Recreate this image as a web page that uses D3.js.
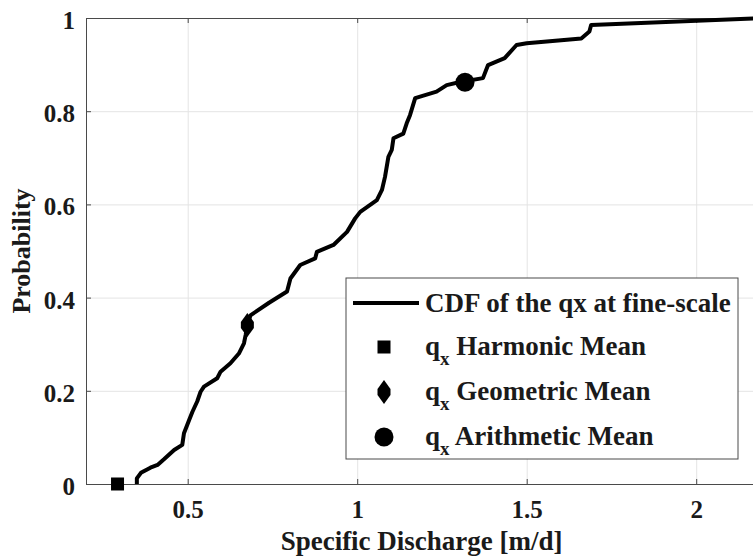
<!DOCTYPE html>
<html>
<head>
<meta charset="utf-8">
<script src="https://cdn.jsdelivr.net/npm/d3@7"></script>
<style>
body { margin: 0; background: #fff; }
svg { display: block; font-family: "Liberation Serif", "Times New Roman", serif; font-weight: bold; }
</style>
</head>
<body>
<script>
// CDF
var cdfX = [0.35, 0.35, 0.362, 0.39, 0.411, 0.43, 0.46, 0.484, 0.489, 0.504, 0.514, 0.528, 0.538, 0.548,
  0.587, 0.597, 0.626, 0.651, 0.666, 0.671, 0.676, 0.685, 0.74, 0.793, 0.803, 0.832, 0.876, 0.881,
  0.93, 0.97, 0.994, 1.009, 1.058, 1.073, 1.082, 1.092, 1.102, 1.107, 1.136, 1.146, 1.156, 1.171,
  1.234, 1.264, 1.3, 1.371, 1.386, 1.435, 1.47, 1.5, 1.661, 1.685, 1.69, 2.2];
var cdfY = [0, 0.012, 0.024, 0.035, 0.041, 0.053, 0.073, 0.084, 0.109, 0.137, 0.155, 0.177, 0.198, 0.209,
  0.227, 0.241, 0.259, 0.28, 0.302, 0.32, 0.341, 0.362, 0.389, 0.413, 0.441, 0.47, 0.484, 0.498,
  0.513, 0.541, 0.57, 0.584, 0.609, 0.631, 0.659, 0.702, 0.717, 0.742, 0.752, 0.774, 0.792, 0.828,
  0.842, 0.856, 0.862, 0.871, 0.899, 0.914, 0.942, 0.946, 0.956, 0.971, 0.985, 1.0];

// the three means
var meanNames = ["Harmonic Mean", "Geometric Mean", "Arithmetic Mean"];
var meanX = [0.293, 0.676, 1.318];
var meanY = [0, 0.341, 0.862];
var meanShapes = ["square", "diamond", "circle"];

var xTicks = [0.5, 1, 1.5, 2];
var yTicks = [0, 0.2, 0.4, 0.6, 0.8, 1];
var lineLabel = "CDF of the qx at fine-scale";

// dimensions
var W = 753, H = 557;
var margin = {top: 18, left: 86, bottom: 73};
var plotH = H - margin.top - margin.bottom;
var plotW = 678;
var serif = "'Liberation Serif', 'Times New Roman', serif";

var xScale = d3.scaleLinear().domain([0.2, 2.2]).range([0, plotW]);
var yScale = d3.scaleLinear().domain([0, 1]).range([plotH, 0]);

var svg = d3.select("body").append("svg")
  .attr("width", W)
  .attr("height", H);

var g = svg.append("g")
  .attr("transform", "translate(" + margin.left + "," + margin.top + ")");

// grid
var xGrid = g.append("g")
  .attr("transform", "translate(0," + plotH + ")")
  .call(d3.axisBottom(xScale).tickValues(xTicks).tickSize(-plotH).tickFormat(""));
var yGrid = g.append("g")
  .call(d3.axisLeft(yScale).tickValues(yTicks).tickSize(-plotW).tickFormat(""));
[xGrid, yGrid].forEach(function(a) {
  a.select(".domain").remove();
  a.selectAll("line").attr("stroke", "#e4e4e4").attr("stroke-width", 1);
});

// axes
var axisColor = "#4a4a4a";
var xAxisGroup = g.append("g")
  .attr("transform", "translate(0," + plotH + ")")
  .call(d3.axisBottom(xScale).tickValues(xTicks).tickSize(-5).tickSizeOuter(0).tickPadding(17)
    .tickFormat(function(d) { return d; }));
var topAxisGroup = g.append("g")
  .call(d3.axisTop(xScale).tickValues(xTicks).tickSize(-5).tickSizeOuter(0).tickFormat(""));
var yAxisGroup = g.append("g")
  .call(d3.axisLeft(yScale).tickValues(yTicks).tickSize(-5).tickSizeOuter(0).tickPadding(11)
    .tickFormat(function(d) { return d; }));

[xAxisGroup, topAxisGroup, yAxisGroup].forEach(function(a) {
  a.attr("font-family", serif).attr("font-size", null);
  a.select(".domain").attr("stroke", axisColor);
  a.selectAll("line").attr("stroke", axisColor);
  a.selectAll("text")
    .attr("font-family", serif)
    .attr("font-weight", "bold")
    .attr("font-size", "25px")
    .attr("fill", "#1a1a1a");
});
yAxisGroup.selectAll("text").attr("dy", "0.42em");
xAxisGroup.selectAll("text").attr("dy", "0.68em");

// axis labels
g.append("text")
  .attr("x", xScale(1.19))
  .attr("y", plotH + 66)
  .attr("text-anchor", "middle")
  .attr("font-size", "27px")
  .attr("fill", "#1a1a1a")
  .text("Specific Discharge [m/d]");

g.append("text")
  .attr("transform", "translate(" + (-56) + "," + (plotH / 2) + ") rotate(-90)")
  .attr("text-anchor", "middle")
  .attr("font-size", "26px")
  .attr("fill", "#1a1a1a")
  .text("Probability");

// CDF line
var cdf = cdfX.map(function(d, i) { return [d, cdfY[i]]; });
var line = d3.line()
  .x(function(d) { return xScale(d[0]); })
  .y(function(d) { return yScale(d[1]); });

g.append("path")
  .datum(cdf)
  .attr("d", line)
  .attr("fill", "none")
  .attr("stroke", "#000")
  .attr("stroke-width", 4)
  .attr("stroke-linejoin", "round");

// marker shapes
function marker(sel, shape) {
  if (shape == "square") {
    sel.append("rect").attr("x", -6.5).attr("y", -6.5)
      .attr("width", 13).attr("height", 13).attr("fill", "#000");
  }
  if (shape == "diamond") {
    sel.append("path")
      .attr("d", "M0,-12L6.5,-3L6.5,3L0,12L-6.5,3L-6.5,-3Z")
      .attr("fill", "#000");
  }
  if (shape == "circle") {
    sel.append("circle").attr("r", 9.5).attr("fill", "#000");
  }
}

meanX.forEach(function(d, i) {
  var m = g.append("g")
    .attr("transform", "translate(" + xScale(d) + "," + yScale(meanY[i]) + ")");
  marker(m, meanShapes[i]);
});

// legend
var legend = svg.append("g").attr("transform", "translate(346,278)");
legend.append("rect")
  .attr("width", 392)
  .attr("height", 181)
  .attr("fill", "#fff")
  .attr("stroke", axisColor)
  .attr("stroke-width", 1);

legend.append("line")
  .attr("x1", 7).attr("x2", 73)
  .attr("y1", 25).attr("y2", 25)
  .attr("stroke", "#000")
  .attr("stroke-width", 4);
legend.append("text")
  .attr("x", 79).attr("y", 34)
  .attr("font-size", "27px")
  .attr("fill", "#1a1a1a")
  .text(lineLabel);

meanNames.forEach(function(d, i) {
  var yy = 69 + i * 45;
  var m = legend.append("g").attr("transform", "translate(38," + yy + ")");
  marker(m, meanShapes[i]);
  var t = legend.append("text")
    .attr("x", 79).attr("y", yy + 8)
    .attr("font-size", "27px")
    .attr("fill", "#1a1a1a");
  t.append("tspan").text("q");
  t.append("tspan").attr("font-size", "19px").attr("dy", 10).text("x");
  t.append("tspan").attr("dy", -10).text(" " + d);
});
</script>
</body>
</html>
